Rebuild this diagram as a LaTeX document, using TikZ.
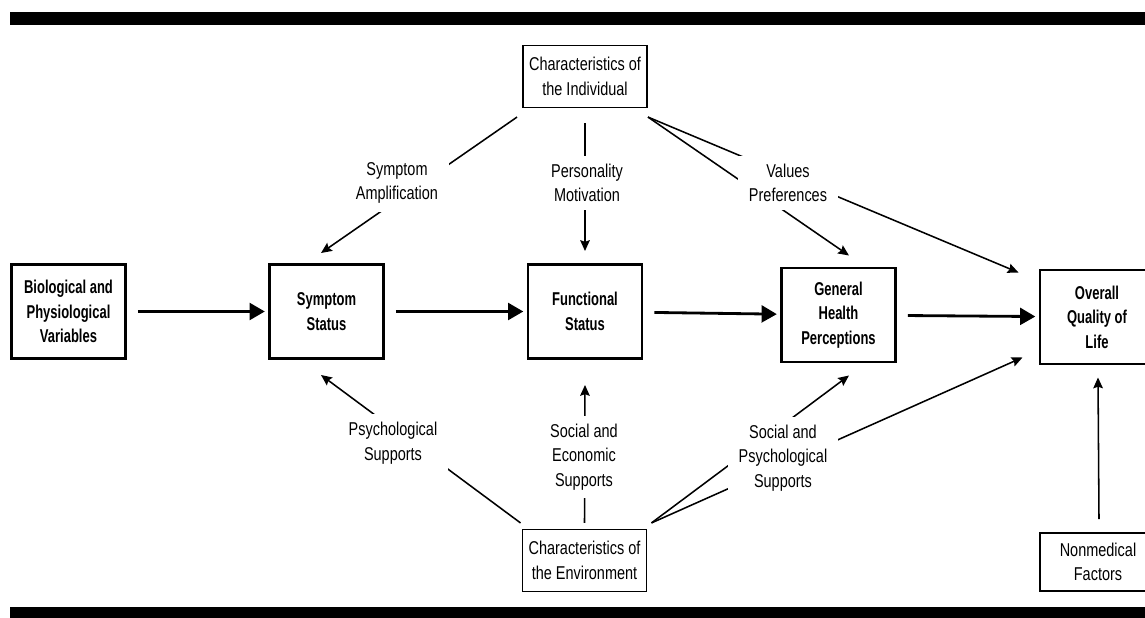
\documentclass[tikz,border=0pt]{standalone}
\usepackage{fontspec}
\setmainfont{Liberation Sans}[FakeStretch=0.78,BoldFeatures={FakeStretch=0.7}]
\usetikzlibrary{arrows.meta}

\begin{document}
\begin{tikzpicture}[x=0.025cm,y=-0.025cm,
    every node/.style={align=center,font=\fontsize{13.2}{17.4}\selectfont},
    mainbox/.style={draw,line width=2.1pt,minimum width=2.85cm,minimum height=2.35cm,inner sep=0,font=\fontsize{13.2}{17.4}\selectfont\bfseries},
    sidebox/.style={draw,line width=1.1pt,inner sep=0,minimum width=3.11cm,minimum height=1.54cm},
    note/.style={fill=white,inner xsep=0.27cm,inner ysep=0.2cm},
    flow/.style={line width=2pt,-{Triangle[length=0.38cm,width=0.42cm]},shorten <=0.27cm,shorten >=0.08cm},
    link/.style={line width=1.1pt,-{Stealth[length=0.27cm,width=0.24cm,inset=0.04cm]}}]
        \useasboundingbox (0,0) rectangle (1145,618);
        \fill (10,12) rectangle (1145,25);
        \fill (10,607) rectangle (1145,618);
        % main chain
        \node[mainbox] (bio) at (68.5,311.5) {Biological and\\Physiological\\Variables};
        \node[mainbox] (sym) at (326.5,311.5) {Symptom\\Status};
        \node[mainbox] (func) at (585,311.5) {Functional\\Status};
        \node[mainbox] (gen) at (838.5,315) {General\\Health\\Perceptions};
        \node[mainbox] (ovr) at (1097,317) {Overall\\Quality of\\Life};
        \node[sidebox] (ind) at (585,76.5) {Characteristics of\\the Individual};
        \node[sidebox] (env) at (584.5,560.5) {Characteristics of\\the Environment};
        \node[sidebox,minimum width=2.91cm,minimum height=1.46cm] (nonmed) at (1098,562) {Nonmedical\\Factors};
        \draw[flow] (bio) -- (sym);
        \draw[flow] (sym) -- (func);
        \draw[flow] (func) -- (gen);
        \draw[flow] (gen) -- (ovr);
        % influences from above
        \draw[link] ([shift={(-5,9)}]ind.south west) -- ([shift={(-5.5,-10)}]sym.north);
        \draw[link] ([shift={(0,15)}]ind.south) -- ([shift={(0,-12)}]func.north);
        \draw[link] ([shift={(0,9)}]ind.south east) -- ([shift={(10.5,-11)}]gen.north);
        \draw[link] ([shift={(0,9)}]ind.south east) -- ([shift={(-20,4)}]ovr.north west);
        % influences from below
        \draw[link] ([shift={(-1,-6)}]env.north west) -- ([shift={(-5.5,15)}]sym.south);
        \draw[link] ([shift={(0,-6)}]env.north) -- ([shift={(0,25)}]func.south);
        \draw[link] ([shift={(4,-6)}]env.north east) -- ([shift={(10.5,12)}]gen.south);
        \draw[link] ([shift={(4,-6)}]env.north east) -- ([shift={(-16,-8)}]ovr.south west);
        \draw[link] ([shift={(1,-13)}]nonmed.north) -- ([shift={(1,12)}]ovr.south);
        % labels on the links
        \node[note] (amp) at (397,183) {Symptom\\Amplification};
        \node[note] (pers) at (587,183) {Personality\\Motivation};
        \node[note] (vals) at (788,183) {Values\\Preferences};
        \node[note] (psy) at (393,443) {Psychological\\Supports};
        \node[note] (soceco) at (584,457) {Social and\\Economic\\Supports};
        \node[note] (socpsy) at (783,458) {Social and\\Psychological\\Supports};
\end{tikzpicture}
\end{document}
